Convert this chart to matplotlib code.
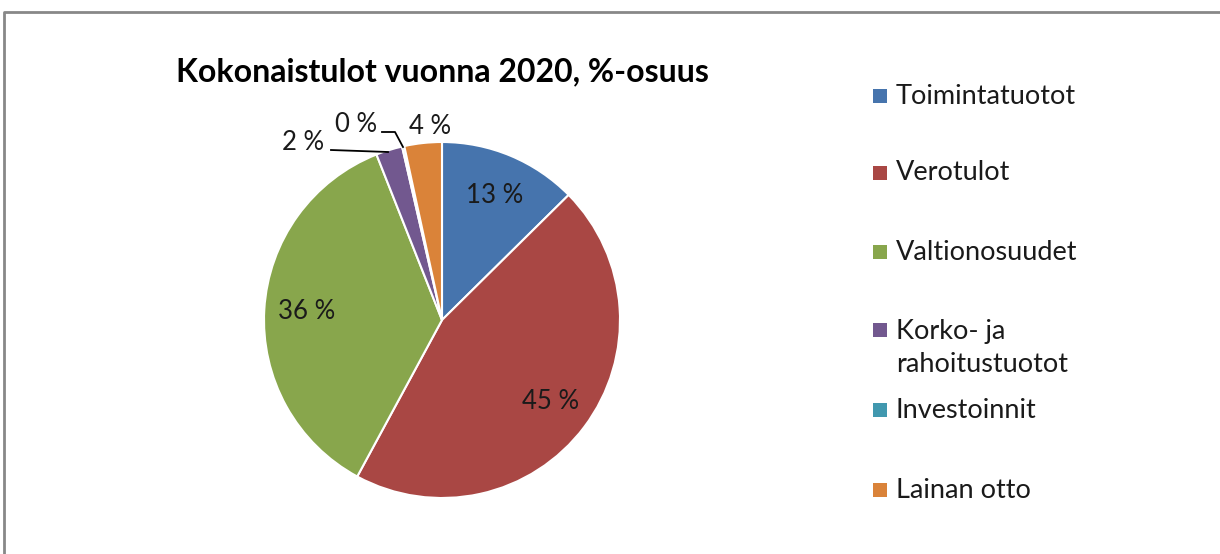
import numpy as np
import matplotlib.pyplot as plt
from matplotlib.patches import Rectangle
from matplotlib.lines import Line2D

plt.rcParams['font.family'] = ['Lato', 'DejaVu Sans']

categories = ['Toimintatuotot', 'Verotulot', 'Valtionosuudet',
              'Korko- ja\nrahoitustuotot', 'Investoinnit', 'Lainan otto']
shares = [12.6, 45.3, 36.1, 2.4, 0.2, 3.4]
share_labels = ['13 %', '45 %', '36 %', '2 %', '0 %', '4 %']
colors = ['#4674AD', '#A94744', '#88A64C', '#72588F', '#4198AF', '#DA8339']

W, H = 1220, 554
fig = plt.figure(figsize=(W / 100, H / 100), dpi=100)
ax = fig.add_axes([0, 0, 1, 1])

cx, cy, r = 442, H - 320, 178
wedges, _ = ax.pie(shares, colors=colors, startangle=90, counterclock=False,
                   center=(cx, cy), radius=r,
                   wedgeprops=dict(edgecolor='white', linewidth=1.5))
ax.set_xlim(0, W)
ax.set_ylim(0, H)
ax.set_aspect('equal')
ax.axis('off')

# labels inside the three big slices
for w, lab in zip(wedges[:3], share_labels[:3]):
    mid = np.deg2rad((w.theta1 + w.theta2) / 2)
    ax.text(cx + 0.76 * r * np.cos(mid), cy + 0.76 * r * np.sin(mid), lab,
            ha='center', va='center', fontsize=18.5, color='#1a1a1a')

# small slices labelled outside
outside = [(303, 143), (356, 125), (430, 126)]
for (x, y), lab in zip(outside, share_labels[3:]):
    ax.text(x, H - y, lab, ha='center', va='center', fontsize=18.5, color='#1a1a1a')
ax.add_line(Line2D([331, 388], [H - 150, H - 152], color='black', lw=1.3))
ax.add_line(Line2D([382, 395, 403], [H - 132, H - 132, H - 147], color='black', lw=1.3))

ax.text(442, H - 72, 'Kokonaistulot vuonna 2020, %-osuus', ha='center', va='center',
        fontsize=23, fontweight='bold', color='black')

# legend (marker sits beside the first line of a wrapped label)
leg_y = [96, 173, 252, 348, 410, 490]
line_h = 36
for col, lab, y in zip(colors, categories, leg_y):
    n = lab.count('\n')
    my = y - n * line_h / 2
    ax.add_patch(Rectangle((873, H - my - 7), 14, 14, facecolor=col, edgecolor='none'))
    ax.text(896, H - y, lab, ha='left', va='center', fontsize=19.5,
            color='#1a1a1a', linespacing=1.4)

# outer frame (only top and left visible)
ax.add_line(Line2D([4, 4, W], [0, H - 12, H - 12], color='#888888', lw=2))

fig.savefig('out.png', dpi=100)
